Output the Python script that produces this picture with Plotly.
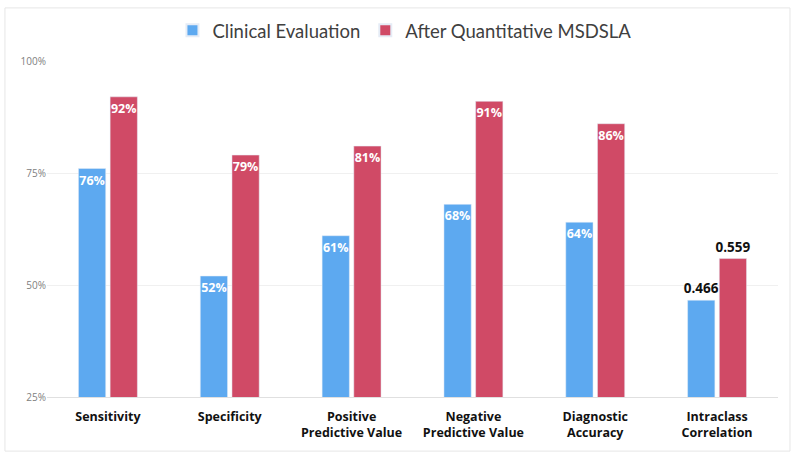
import plotly.graph_objects as go

categories = ["Sensitivity", "Specificity", "Positive<br>Predictive Value",
              "Negative<br>Predictive Value", "Diagnostic<br>Accuracy", "Intraclass<br>Correlation"]
clinical = [76, 52, 61, 68, 64, 46.6]
quantitative = [92, 79, 81, 91, 86, 55.9]
is_ratio = [False, False, False, False, False, True]
y_ticks = [25, 50, 75, 100]
y_tick_labels = ["25%", "50%", "75%", "100%"]

def labels(vals):
    return [f"<b>{v/100:.3f}</b>" if r else f"<b>{v:.0f}%</b>" for v, r in zip(vals, is_ratio)]

def positions():
    return ["outside" if r else "inside" for r in is_ratio]

def colors():
    return ["#111111" if r else "white" for r in is_ratio]

def sizes():
    return [13.5 if r else 12.5 for r in is_ratio]

fig = go.Figure()
for name, vals, col in [("Clinical Evaluation", clinical, "#5DA9F0"),
                        ("After Quantitative MSDSLA", quantitative, "#D04A66")]:
    fig.add_trace(go.Bar(
        x=categories, y=vals, name=name,
        marker_color=col, text=labels(vals), textposition=positions(),
        insidetextanchor="end", constraintext="none",
        textfont=dict(size=sizes(), color=colors(), family="Open Sans"),
        cliponaxis=False, textangle=0,
    ))

fig.update_layout(
    width=800, height=462,
    margin=dict(l=47, r=22, t=61, b=65, autoexpand=False),
    paper_bgcolor="white", plot_bgcolor="white",
    barmode="group", bargap=0.48, bargroupgap=0.14,
    showlegend=True,
    legend=dict(orientation="h", x=0.489, xanchor="center", y=1.09, yanchor="middle",
                font=dict(size=18.5, color="#404040", family="Lato"),
                itemsizing="constant", itemwidth=30, tracegroupgap=0),
    xaxis=dict(
        tickmode="array", tickvals=categories,
        ticktext=[f"<b>{c}</b>" for c in categories],
        tickfont=dict(size=12.5, color="#111111", family="Open Sans"),
        showline=True, linecolor="#e0e0e0", linewidth=1,
        ticks="", showgrid=False, ticklabelstandoff=8,
    ),
    yaxis=dict(
        range=[25, 100], tickmode="array", tickvals=y_ticks, ticktext=y_tick_labels,
        tickfont=dict(size=10, color="#808080", family="Open Sans"),
        showgrid=True, gridcolor="#f0f0f0", gridwidth=1, zeroline=False,
        showline=False, ticks="",
    ),
    shapes=[dict(type="rect", xref="paper", yref="paper",
                 x0=-0.0575, x1=1.0164, y0=-0.161, y1=1.158,
                 line=dict(color="#e6e6e6", width=1), layer="below")],
)

fig.write_html("out.html", config={"displayModeBar": False},
               post_script="document.body.style.margin='0';")
